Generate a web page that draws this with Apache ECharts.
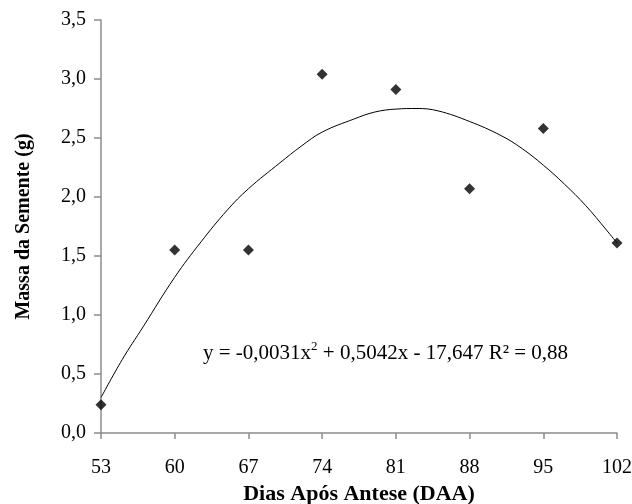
<!DOCTYPE html>
<html><head><meta charset="utf-8">
<script src="https://cdn.jsdelivr.net/npm/echarts@6/dist/echarts.min.js"></script>
<style>html,body{margin:0;padding:0;background:#fff}#c{width:632px;height:504px}</style>
</head><body><div id="c"></div>
<script>
var days = [53, 60, 67, 74, 81, 88, 95, 102];
var massa = [0.24, 1.55, 1.55, 3.04, 2.91, 2.07, 2.58, 1.61];
var trendDays = [53, 55, 57, 60, 62.5, 65, 67, 70, 72, 74, 77, 79, 81, 83, 85, 88, 91, 93, 95, 97, 99, 101, 102];
var trendVals = [0.30, 0.62, 0.90, 1.32, 1.62, 1.89, 2.07, 2.29, 2.43, 2.55, 2.66, 2.72, 2.745, 2.75, 2.73, 2.64, 2.52, 2.41, 2.27, 2.11, 1.93, 1.72, 1.61];

var chart = echarts.init(document.getElementById('c'));
var font = '"Liberation Serif", "Times New Roman", serif';
function fmt(v){ return v.toFixed(1).replace('.', ','); }
chart.setOption({
  animation: false,
  grid: {left: 101, right: 15, top: 20, bottom: 71, outerBoundsMode: 'none', containLabel: false},
  xAxis: {
    type: 'value', min: 53, max: 102,
    name: 'Dias Após Antese (DAA)', nameLocation: 'middle', nameGap: 49,
    nameTextStyle: {fontFamily: font, fontWeight: 'bold', fontSize: 22, color: '#000'},
    axisLine: {lineStyle: {color: '#8c8c8c', width: 1.5}},
    axisTick: {show: true, length: 6, lineStyle: {color: '#8c8c8c', width: 1.5}, customValues: days},
    axisLabel: {fontFamily: font, fontSize: 20, color: '#000', margin: 25, customValues: days},
    splitLine: {show: false}
  },
  yAxis: {
    type: 'value', min: 0, max: 3.5, interval: 0.5,
    name: 'Massa da Semente (g)', nameLocation: 'middle', nameGap: 67,
    nameTextStyle: {fontFamily: font, fontWeight: 'bold', fontSize: 20, color: '#000'},
    axisLine: {show: true, lineStyle: {color: '#8c8c8c', width: 1.5}},
    axisTick: {show: true, length: 7, lineStyle: {color: '#8c8c8c', width: 1.5}},
    axisLabel: {fontFamily: font, fontSize: 20, color: '#000', margin: 15, formatter: fmt},
    splitLine: {show: false}
  },
  graphic: [{
    type: 'text', left: 203, top: 340,
    style: {
      text: '{a|y = -0,0031x}{s|2}{a| + 0,5042x - 17,647 R² = 0,88}',
      rich: {
        a: {fontFamily: font, fontSize: 21, fill: '#000', verticalAlign: 'bottom'},
        s: {fontFamily: font, fontSize: 13, fill: '#000', verticalAlign: 'top', padding: [0,0,11,0]}
      }
    }
  }],
  series: [{
    type: 'line', data: trendDays.map(function(d, i){ return [d, trendVals[i]]; }),
    smooth: 0.4, showSymbol: false, lineStyle: {color: '#000', width: 1}, z: 2
  }, {
    type: 'scatter', data: days.map(function(d, i){ return [d, massa[i]]; }),
    symbol: 'diamond', symbolSize: 11, itemStyle: {color: '#000'}, z: 3
  }]
});
</script></body></html>
